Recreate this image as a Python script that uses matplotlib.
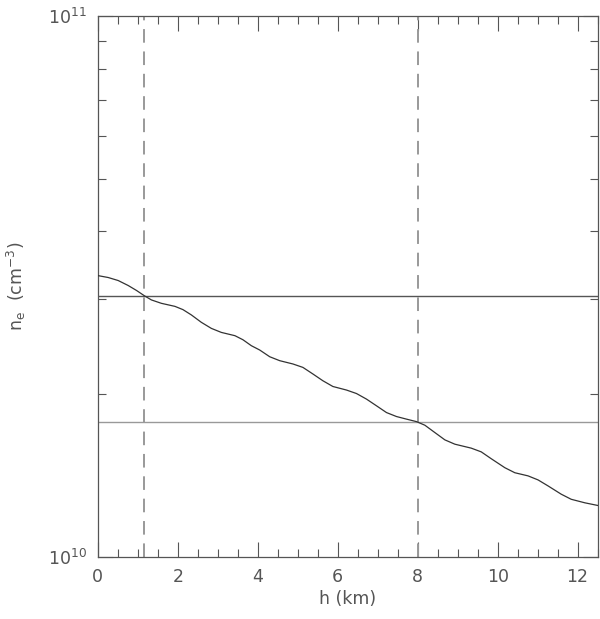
import matplotlib
matplotlib.use("Agg")
import matplotlib.pyplot as plt
from matplotlib.ticker import LogLocator, NullFormatter, MultipleLocator

# electron density profile
h_km = [0.0, 0.26, 0.51, 0.76, 0.97, 1.16, 1.34, 1.59, 1.93, 2.13, 2.34,
        2.59, 2.84, 3.09, 3.43, 3.63, 3.84, 4.05, 4.30, 4.55, 4.88, 5.13,
        5.38, 5.63, 5.88, 6.22, 6.47, 6.72, 6.97, 7.22, 7.47, 7.72, 7.97,
        8.18, 8.43, 8.68, 8.93, 9.34, 9.59, 9.84, 10.18, 10.43, 10.76,
        11.01, 11.26, 11.59, 11.84, 12.18, 12.5]
ne = [3.314e10, 3.287e10, 3.245e10, 3.177e10, 3.110e10, 3.043e10, 2.988e10,
      2.945e10, 2.907e10, 2.867e10, 2.803e10, 2.716e10, 2.647e10, 2.602e10,
      2.566e10, 2.522e10, 2.459e10, 2.414e10, 2.346e10, 2.307e10, 2.275e10,
      2.242e10, 2.180e10, 2.118e10, 2.067e10, 2.036e10, 2.006e10, 1.959e10,
      1.904e10, 1.850e10, 1.819e10, 1.799e10, 1.780e10, 1.753e10, 1.699e10,
      1.647e10, 1.617e10, 1.590e10, 1.565e10, 1.520e10, 1.463e10, 1.432e10,
      1.413e10, 1.389e10, 1.354e10, 1.307e10, 1.279e10, 1.260e10, 1.246e10]

h_marks = [1.15, 8.0]
ne_marks = [3.04e10, 1.778e10]
ne_colors = ["#555555", "#999999"]

TXT = "#555555"

fig = plt.figure(figsize=(6.0, 6.19), dpi=100)
ax = fig.add_axes([0.163, 0.100, 0.833, 0.874])

ax.plot(h_km, ne, color="#333333", linewidth=0.9, zorder=3,
        solid_joinstyle="round")
for v in h_marks:
    ax.axvline(v, color="#999999", linewidth=1.4, linestyle=(0, (7, 4.5)), zorder=2)
for v, c in zip(ne_marks, ne_colors):
    ax.axhline(v, color=c, linewidth=1.0, zorder=2)

ax.set_yscale("log")
ax.set_xlim(0, 12.5)
ax.set_ylim(1e10, 1e11)
ax.xaxis.set_major_locator(MultipleLocator(2))
ax.xaxis.set_minor_locator(MultipleLocator(0.5))
ax.yaxis.set_minor_locator(LogLocator(base=10, subs=range(2, 10)))
ax.yaxis.set_minor_formatter(NullFormatter())
ax.set_yticks([1e10, 1e11])
ax.set_yticklabels([r"10$^{10}$", r"10$^{11}$"])

ax.tick_params(which="both", direction="in", top=True, right=True,
               colors="#555555", labelcolor=TXT, labelsize=12.5, width=0.8)
ax.tick_params(which="major", length=11, pad=8)
ax.tick_params(which="minor", length=5.5)
for s in ax.spines.values():
    s.set_color("#555555")
    s.set_linewidth(0.9)

ax.set_xlabel("h (km)", color=TXT, fontsize=12.5, labelpad=3)
ax.set_ylabel(r"n$_\mathrm{e}$  (cm$^{-3}$)", color=TXT, fontsize=12.5, labelpad=14)

fig.savefig("out.png", dpi=100)
